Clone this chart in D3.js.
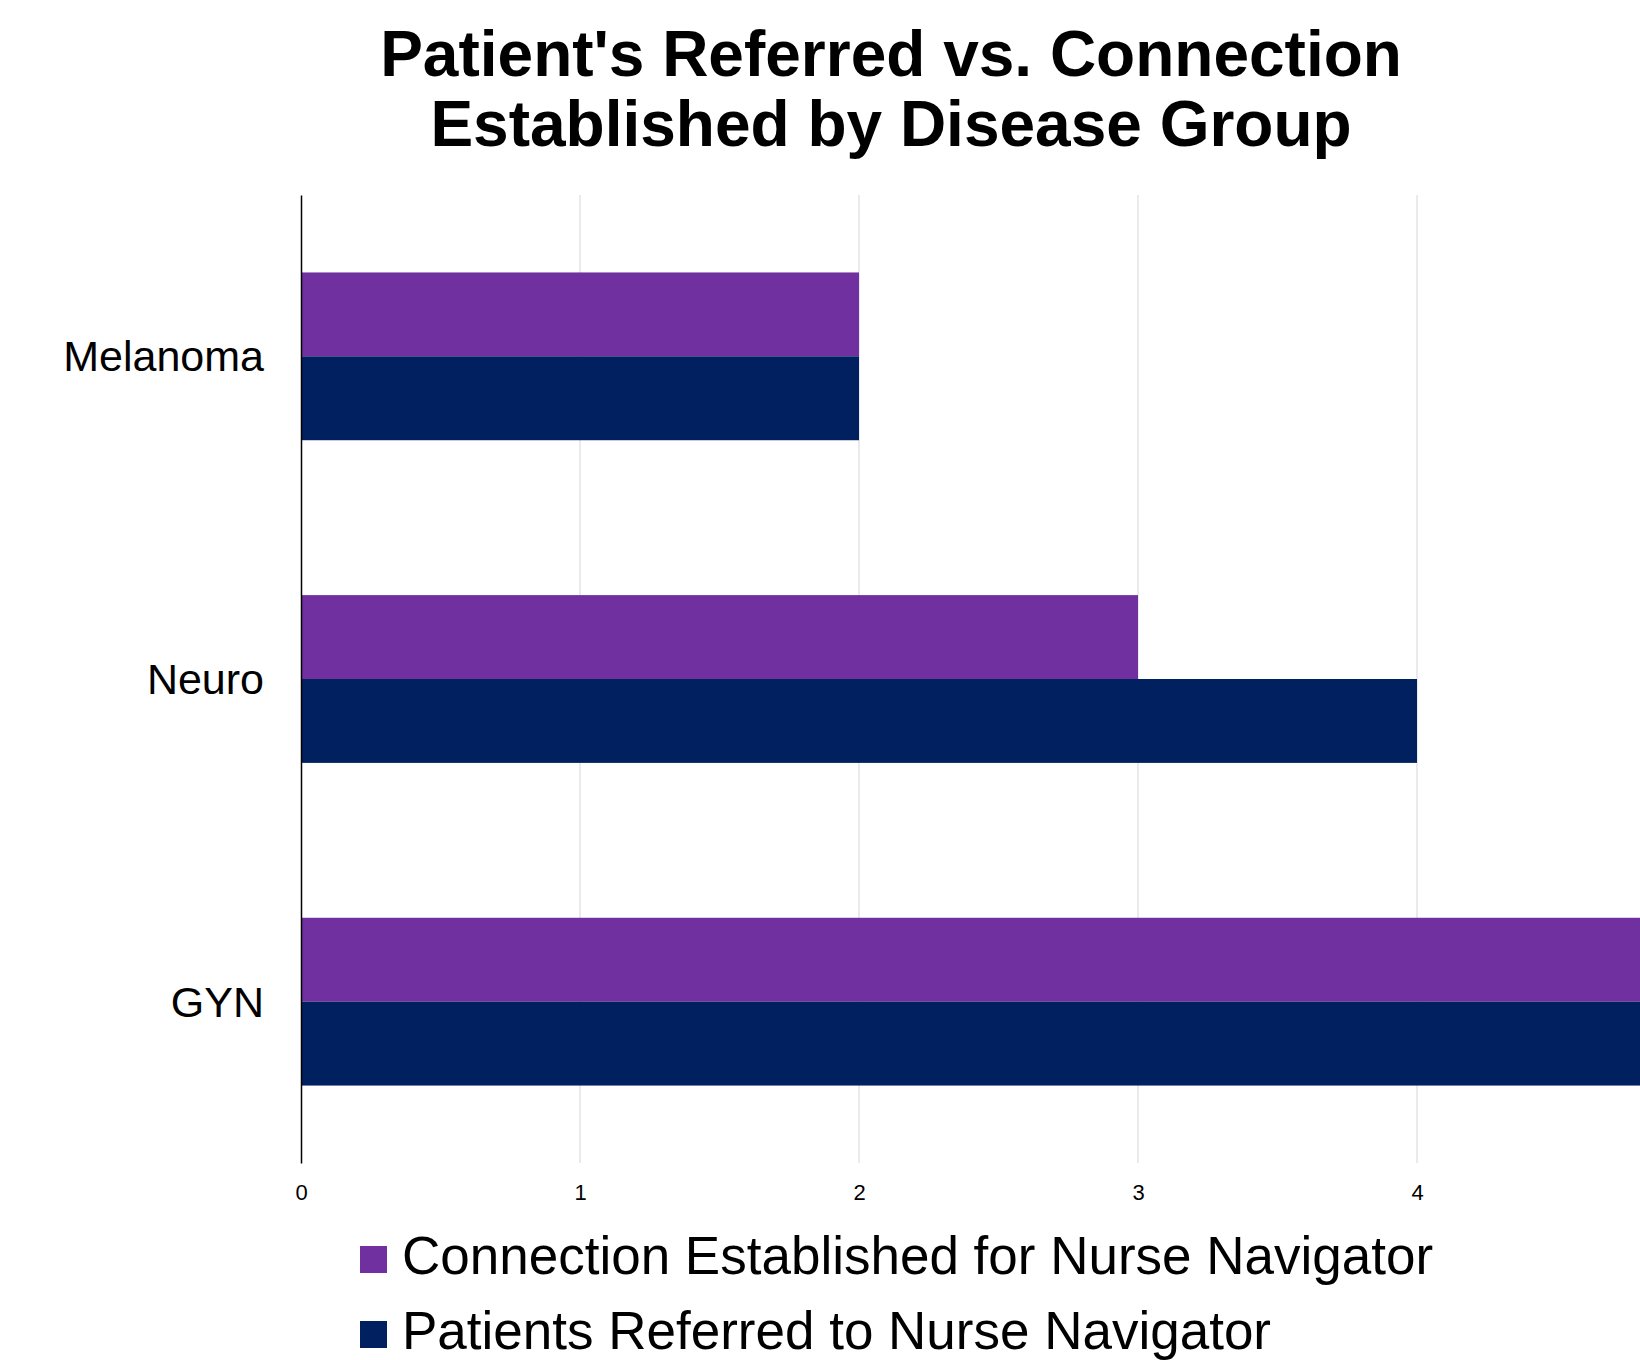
<!DOCTYPE html>
<html lang="en">
<head>
    <meta charset="UTF-8">
    <title>Patient's Referred vs. Connection Established by Disease Group</title>
    <script src="https://cdn.jsdelivr.net/npm/d3@7"></script>
    <style>
        body {
            margin: 0;
            padding: 0;
            background-color: #ffffff;
            font-family: "Liberation Sans", Arial, sans-serif;
        }
    </style>
</head>
<body>
<div id="chart"></div>
<script>
    // Data
    const categories = ["Melanoma", "Neuro", "GYN"];
    const seriesNames = ["Connection Established for Nurse Navigator", "Patients Referred to Nurse Navigator"];
    const connectionEstablished = [2, 3, 5];
    const patientsReferred = [2, 4, 5];
    const xTicks = [0, 1, 2, 3, 4];
    const colors = ["#7030a0", "#002060"];

    const width = 1640;
    const height = 1360;
    const marginLeft = 301;
    const marginTop = 195;
    const plotBottom = 1163;
    const unit = 279; // pixels per unit, x = 0 .. 5 goes past the right edge

    const svg = d3.select("#chart").append("svg")
        .attr("width", width)
        .attr("height", height)
        .style("display", "block");

    // Scales
    const x = d3.scaleLinear()
        .domain([0, 5])
        .range([marginLeft, marginLeft + 5 * unit]);

    const y = d3.scaleBand()
        .domain(categories)
        .range([marginTop, plotBottom])
        .paddingInner(0.48)
        .paddingOuter(0.24);

    const ySub = d3.scaleBand()
        .domain(seriesNames)
        .range([0, y.bandwidth()]);

    // Title
    const title = svg.append("text")
        .attr("x", 891)
        .attr("text-anchor", "middle")
        .attr("font-size", 64)
        .attr("font-weight", "bold")
        .attr("fill", "#000");
    title.append("tspan").attr("x", 891).attr("y", 76).text("Patient's Referred vs. Connection");
    title.append("tspan").attr("x", 891).attr("y", 146).text("Established by Disease Group");

    // Gridlines
    svg.append("g")
        .selectAll("line")
        .data(xTicks.filter(d => d > 0))
        .join("line")
        .attr("x1", d => x(d))
        .attr("x2", d => x(d))
        .attr("y1", marginTop)
        .attr("y2", plotBottom)
        .attr("stroke", "#e3e3e3")
        .attr("stroke-width", 1.5);

    // Bars
    const rows = categories.map((c, i) => ({
        category: c,
        values: [connectionEstablished[i], patientsReferred[i]]
    }));

    const group = svg.append("g")
        .selectAll("g")
        .data(rows)
        .join("g")
        .attr("transform", d => `translate(0,${y(d.category)})`);

    group.selectAll("rect")
        .data(d => d.values.map((v, j) => ({ name: seriesNames[j], value: v, color: colors[j] })))
        .join("rect")
        .attr("x", x(0))
        .attr("y", d => ySub(d.name))
        .attr("width", d => x(d.value) - x(0))
        .attr("height", ySub.bandwidth())
        .attr("fill", d => d.color);

    // X axis tick labels
    const xAxis = d3.axisBottom(x)
        .tickValues(xTicks)
        .tickFormat(d3.format("d"))
        .tickSize(0)
        .tickPadding(0);

    const gx = svg.append("g")
        .attr("transform", `translate(0,${plotBottom})`)
        .call(xAxis);
    gx.select(".domain").remove();
    gx.selectAll("text")
        .attr("font-family", "\"Liberation Sans\", Arial, sans-serif")
        .attr("font-size", 22)
        .attr("fill", "#000")
        .attr("dy", null)
        .attr("y", 37);

    // Y axis (vertical baseline and category labels)
    const yAxis = d3.axisLeft(y)
        .tickSize(0)
        .tickPadding(37);

    const gy = svg.append("g")
        .attr("transform", `translate(${marginLeft},0)`)
        .call(yAxis);
    gy.select(".domain")
        .attr("stroke", "#000")
        .attr("stroke-width", 1.5);
    gy.selectAll("text")
        .attr("font-family", "\"Liberation Sans\", Arial, sans-serif")
        .attr("font-size", 43)
        .attr("fill", "#000")
        .attr("dy", "0.35em");

    // Legend
    const legend = svg.append("g")
        .selectAll("g")
        .data(seriesNames)
        .join("g")
        .attr("transform", (d, i) => `translate(360,${1246 + i * 75})`);

    legend.append("rect")
        .attr("width", 27)
        .attr("height", 27)
        .attr("fill", (d, i) => colors[i]);

    legend.append("text")
        .attr("x", 42)
        .attr("y", 28)
        .attr("font-size", 53)
        .attr("fill", "#000")
        .text(d => d);
</script>
</body>
</html>
